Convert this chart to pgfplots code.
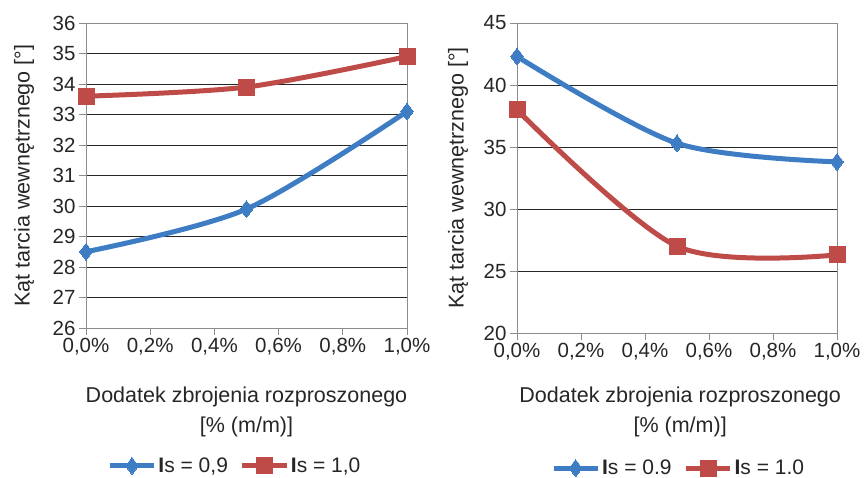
\documentclass[border=0pt]{standalone}
\usepackage{fontspec}
\setmainfont{Liberation Sans}
\usepackage{pgfplots}
\pgfplotsset{compat=1.18}
\definecolor{sblue}{RGB}{62,125,196}
\definecolor{sred}{RGB}{190,75,72}
\pgfplotsset{
  mystyle/.style={
    scale only axis,
    anchor=south west,
    xmin=0, xmax=1,
    xtick={0,0.2,0.4,0.6,0.8,1},
    xticklabels={{0,0\%},{0,2\%},{0,4\%},{0,6\%},{0,8\%},{1,0\%}},
    tick align=outside,
    major tick length=7pt,
    xtick pos=bottom, ytick pos=left,
    ymajorgrids,
    major grid style={black!85, line width=0.8pt},
    axis line style={gray!90, line width=0.8pt},
    every tick/.style={gray!90, line width=0.8pt},
    /pgf/number format/assume math mode=true,
    tick label style={font=\fontsize{20.5}{24}\selectfont, text=black!85},
    label style={font=\fontsize{21.5}{30}\selectfont, text=black!85},
    xlabel={Dodatek zbrojenia rozproszonego\\{[}\% (m/m)]},
    xlabel style={align=center, anchor=center},
    ylabel={Kąt tarcia wewnętrznego [°]},
    ylabel style={anchor=center, rotate=0},
    legend style={draw=none, anchor=center, legend columns=2,
      font=\fontsize{21}{24}\selectfont, text=black!85,
      /tikz/every even column/.append style={column sep=10pt},
      legend cell align=left, inner sep=0pt},
    legend image code/.code={
      \draw[mark repeat=2,mark phase=2] plot coordinates {(0pt,0pt)(22pt,0pt)(44pt,0pt)};
    },
  },
  blues/.style={sblue, line width=5pt, smooth, mark=diamond*, mark size=8.5pt, mark options={solid, line width=0pt, fill=sblue, draw=sblue}},
  reds/.style={sred, line width=5pt, smooth, mark=square*, mark size=8pt, mark options={solid, line width=0pt, fill=sred, draw=sred}},
}
\begin{document}
\begin{tikzpicture}
\path[use as bounding box] (0pt,0pt) rectangle (866pt,-478pt);
\begin{axis}[mystyle,
  at={(86pt,-328pt)}, width=321pt, height=305pt,
  ymin=26, ymax=36, ytick={26,27,...,36},
  xlabel style={at={(axis description cs:0.5,-0.275)}},
  ylabel style={at={(axis description cs:-0.193,0.5)}},
  legend style={at={(0.464,-0.452)}},
]
\addplot[blues] coordinates {(0,28.5) (0.5,29.9) (1,33.1)};
\addlegendentry{\textbf{I}s = 0,9}
\addplot[reds] coordinates {(0,33.6) (0.5,33.9) (1,34.9)};
\addlegendentry{\textbf{I}s = 1,0}
\end{axis}
\begin{axis}[mystyle,
  at={(517pt,-333pt)}, width=320pt, height=310pt,
  ymin=20, ymax=45, ytick={20,25,...,45},
  xlabel style={at={(axis description cs:0.51,-0.255)}},
  ylabel style={at={(axis description cs:-0.184,0.5)}},
  legend style={at={(0.505,-0.436)}},
]
\addplot[blues] coordinates {(0,42.3) (0.5,35.3) (1,33.8)};
\addlegendentry{\textbf{I}s = 0.9}
\addplot[reds] coordinates {(0,38.0) (0.5,27.0) (1,26.3)};
\addlegendentry{\textbf{I}s = 1.0}
\end{axis}
\end{tikzpicture}
\end{document}
